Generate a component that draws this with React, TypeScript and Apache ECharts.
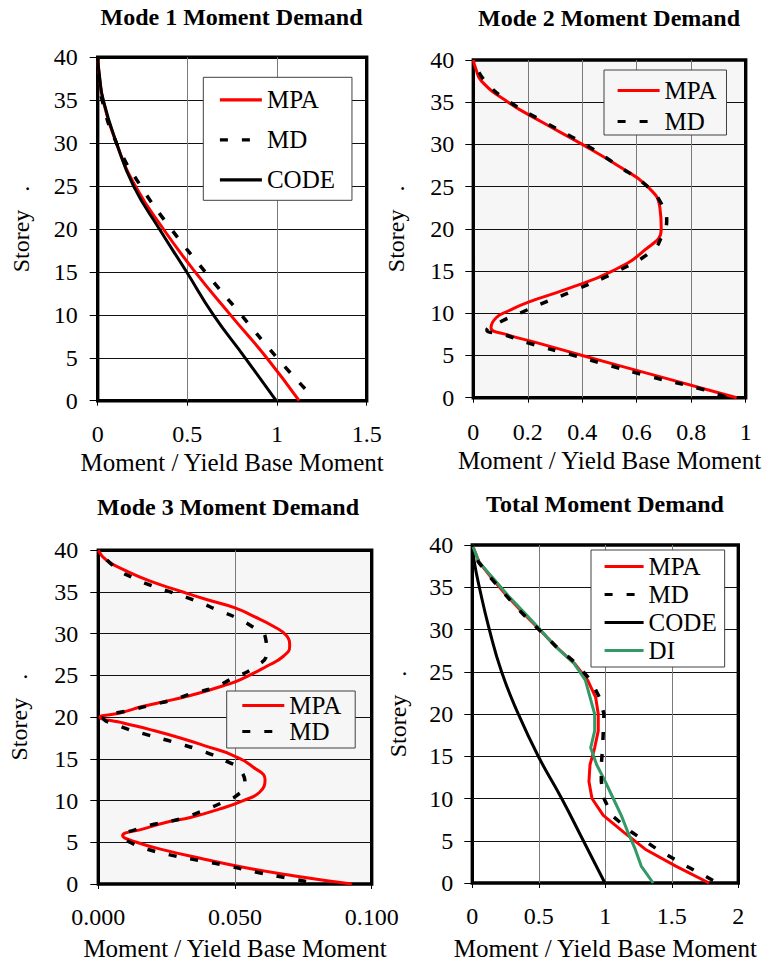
import React, { useEffect, useRef } from "react";
import * as echarts from "echarts";

const FONT = "Liberation Serif, Times New Roman, serif";

// ---------- Data ----------
const TITLES = ["Mode 1 Moment Demand", "Mode 2 Moment Demand", "Mode 3 Moment Demand", "Total Moment Demand"];
const X_NAME = "Moment / Yield Base Moment";
const Y_NAME = "Storey   .";

// Mode 1
const P1_STOREY = [0, 5, 10, 15, 20, 25, 30, 35, 38, 40];
const P1_MPA = [1.123, 0.942, 0.74, 0.543, 0.366, 0.21, 0.105, 0.03, 0.008, 0];
const P1_CODE = [0.995, 0.822, 0.645, 0.496, 0.344, 0.2, 0.105, 0.031, 0.009, 0];
const P1_MD_STOREY = [1.4, 5, 10, 15, 20, 25, 30, 35, 38, 40];
const P1_MD = [1.156, 1.0, 0.8, 0.6, 0.41, 0.24, 0.105, 0.025, 0.006, 0];

// Mode 2
const P2_MPA_STOREY = [0, 2.5, 5, 6.5, 7.5, 8.3, 9.5, 10.3, 11.3, 12.8, 15, 17.5, 20, 22.5, 25, 27.5, 30, 32.5, 35, 37.5, 39, 40];
const P2_MPA = [0.967, 0.684, 0.4, 0.235, 0.12, 0.065, 0.085, 0.13, 0.2, 0.337, 0.51, 0.63, 0.69, 0.685, 0.64, 0.53, 0.4, 0.26, 0.128, 0.03, 0.009, 0];
const P2_MD_STOREY = [0.1, 1, 2.5, 4, 5, 6.5, 7.5, 8, 9, 10, 11, 12.5, 15, 17.5, 19, 21, 23, 25, 27.5, 30, 32.5, 35, 37.5, 40];
const P2_MD = [0.925, 0.84, 0.65, 0.48, 0.37, 0.2, 0.11, 0.05, 0.1, 0.17, 0.24, 0.355, 0.53, 0.66, 0.69, 0.71, 0.69, 0.64, 0.53, 0.41, 0.27, 0.135, 0.043, 0];

// Mode 3
const P3_MPA_STOREY = [0, 1, 2, 3, 4, 5, 5.8, 6.6, 7.4, 8, 9, 10, 11, 12.5, 14, 15.4, 16.5, 17.5, 18.5, 19.3, 20, 20.5, 21.3, 22.1, 22.9, 23.9, 24.5, 26.1, 27.3, 28.5, 29.7, 30.9, 32.1, 33.1, 34.1, 35.1, 36.3, 37.5, 38.8, 40];
const P3_MPA = [0.0927, 0.0713, 0.053, 0.0384, 0.025, 0.014, 0.0089, 0.0165, 0.025, 0.034, 0.0445, 0.053, 0.059, 0.061, 0.0567, 0.0494, 0.0396, 0.03, 0.019, 0.0091, 0.0006, 0.0079, 0.0165, 0.0274, 0.037, 0.047, 0.052, 0.0616, 0.0677, 0.07, 0.069, 0.064, 0.0567, 0.05, 0.0396, 0.03, 0.019, 0.0104, 0.003, 0];
const P3_MD_STOREY = [0.3, 0.8, 1.4, 2.2, 2.8, 3.4, 4.2, 5.0, 5.6, 6.8, 7.8, 8.8, 10.0, 10.6, 11.8, 13.7, 14.7, 15.9, 16.9, 17.9, 18.9, 19.9, 20.9, 21.5, 22.1, 22.9, 23.5, 24.7, 25.9, 27.7, 29.7, 30.5, 31.9, 32.8, 33.9, 34.9, 35.7, 36.7, 37.8, 40];
const P3_MD = [0.076, 0.0677, 0.058, 0.047, 0.0372, 0.0274, 0.0177, 0.0116, 0.0091, 0.0165, 0.03, 0.0384, 0.047, 0.0506, 0.0537, 0.0518, 0.047, 0.0384, 0.0287, 0.0177, 0.0079, 0.0018, 0.0128, 0.02, 0.0274, 0.0348, 0.042, 0.0494, 0.0567, 0.0616, 0.061, 0.058, 0.0506, 0.0439, 0.036, 0.0274, 0.02, 0.0128, 0.0067, 0];

// Total
const P4_STOREY = [0, 2, 4, 6, 8, 10, 12, 14, 16, 18, 20, 22, 24, 26, 28, 30, 32, 34, 36, 38, 40];
const P4_MPA = [1.78, 1.53, 1.3, 1.14, 0.985, 0.9, 0.877, 0.885, 0.92, 0.947, 0.947, 0.927, 0.867, 0.767, 0.627, 0.505, 0.38, 0.26, 0.15, 0.05, 0];
const P4_DI = [1.36, 1.27, 1.225, 1.17, 1.12, 1.06, 1.0, 0.935, 0.89, 0.92, 0.92, 0.885, 0.85, 0.765, 0.625, 0.51, 0.39, 0.27, 0.16, 0.05, 0];
const P4_MD_STOREY = [0.3, 1, 2, 4, 6, 8, 10, 12, 14, 16, 18, 20, 22, 24, 26, 28, 30, 32, 34, 36, 38, 40];
const P4_MD = [1.81, 1.73, 1.61, 1.39, 1.2, 1.05, 0.99, 0.97, 0.97, 0.98, 0.985, 0.99, 0.955, 0.89, 0.78, 0.63, 0.5, 0.37, 0.255, 0.145, 0.045, 0];
const P4_CODE_STOREY = [0, 5, 10, 15, 20, 25, 30, 35, 38, 40];
const P4_CODE = [0.997, 0.835, 0.672, 0.496, 0.346, 0.22, 0.128, 0.053, 0.015, 0];

// ---------- helpers ----------
const pts = (xs: number[], ys: number[]) => xs.map((x, i) => [x, ys[i]]);

const STYLES: Record<string, any> = {
  MPA: { color: "#ff0000", width: 3, type: "solid" },
  MD: { color: "#000000", width: 3.5, type: [8, 14] },
  CODE: { color: "#000000", width: 3, type: "solid" },
  DI: { color: "#339966", width: 3, type: "solid" },
};

function series(name: string, idx: number, data: number[][], smooth: boolean) {
  const s = STYLES[name];
  return {
    name,
    type: "line",
    xAxisIndex: idx,
    yAxisIndex: idx,
    data,
    symbol: "none",
    smooth: smooth ? 0.5 : false,
    lineStyle: { color: s.color, width: s.width, type: s.type },
    itemStyle: { color: s.color },
    z: name === "MD" ? 3 : 2,
  };
}

const GRIDS = [
  { left: 97.7, top: 57.3, width: 269, height: 343.4, bg: "#ffffff" },
  { left: 473.3, top: 60, width: 272.4, height: 337.7, bg: "#f6f6f6" },
  { left: 98.3, top: 550.3, width: 273.4, height: 334.7, bg: "#f6f6f6" },
  { left: 472.3, top: 545, width: 266, height: 339, bg: "#ffffff" },
];

const TITLE_POS = [
  [231.5, 16.5],
  [609, 17.5],
  [228, 507],
  [605, 503.5],
];

const X_CFG = [
  { max: 1.5, interval: 0.5, dec: -1, margin: 21, nameGap: 49 },
  { max: 1, interval: 0.2, dec: -1, margin: 22, nameGap: 50 },
  { max: 0.1, interval: 0.05, dec: 3, margin: 21, nameGap: 52 },
  { max: 2, interval: 0.5, dec: -1, margin: 21, nameGap: 53 },
];
const Y_CFG = [
  { margin: 20, nameGap: 65 },
  { margin: 19, nameGap: 65 },
  { margin: 20, nameGap: 67 },
  { margin: 19, nameGap: 62 },
];

const LEGENDS = [
  { data: ["MPA", "MD", "CODE"], left: 203.3, top: 77.3, padding: [10, 17, 8, 15], itemGap: 15, itemWidth: 42, bg: "#ffffff" },
  { data: ["MPA", "MD"], left: 604, top: 70, padding: [8, 10, 1, 12], itemGap: 6, itemWidth: 42, bg: "#f6f6f6" },
  { data: ["MPA", "MD"], left: 226.7, top: 691, padding: [2, 14, 4, 14], itemGap: 1, itemWidth: 42, bg: "#f6f6f6" },
  { data: ["MPA", "MD", "CODE", "DI"], left: 591, top: 550, padding: [4, 8, 4, 12], itemGap: 3, itemWidth: 39, bg: "#ffffff" },
];

export default function App() {
  const ref = useRef<HTMLDivElement>(null);

  useEffect(() => {
    if (!ref.current) return;
    const chart = echarts.init(ref.current, undefined, { renderer: "svg" });

    const grid = GRIDS.map((g) => ({
      left: g.left,
      top: g.top,
      width: g.width,
      height: g.height,
      show: true,
      backgroundColor: g.bg,
      borderColor: "#000",
      borderWidth: 3.4,
      containLabel: false,
    }));

    const xAxis = X_CFG.map((c, i) => ({
      type: "value",
      gridIndex: i,
      min: 0,
      max: c.max,
      interval: c.interval,
      name: X_NAME,
      nameLocation: "middle",
      nameGap: c.nameGap,
      nameTextStyle: { fontFamily: FONT, fontSize: 25, color: "#000" },
      axisLine: { show: false },
      axisTick: { show: true, length: 5, lineStyle: { color: "#000", width: 1 } },
      axisLabel: {
        margin: c.margin,
        fontFamily: FONT,
        fontSize: 24,
        color: "#000",
        formatter: (v: number) => (c.dec > 0 ? v.toFixed(c.dec) : String(Math.round(v * 100) / 100)),
      },
      splitLine: { show: true, showMinLine: false, showMaxLine: false, lineStyle: { color: "#7a7a7a", width: 1 } },
    }));

    const yAxis = Y_CFG.map((c, i) => ({
      type: "value",
      gridIndex: i,
      min: 0,
      max: 40,
      interval: 5,
      name: Y_NAME,
      nameLocation: "middle",
      nameGap: c.nameGap,
      nameTextStyle: { fontFamily: FONT, fontSize: 24, color: "#000" },
      axisLine: { show: false },
      axisTick: { show: true, length: 8, lineStyle: { color: "#000", width: 1 } },
      axisLabel: { margin: c.margin, fontFamily: FONT, fontSize: 24, color: "#000" },
      splitLine: { show: true, showMinLine: false, showMaxLine: false, lineStyle: { color: "#111", width: 1 } },
    }));

    const title = TITLES.map((t, i) => ({
      text: t,
      left: TITLE_POS[i][0],
      top: TITLE_POS[i][1] - 12,
      textAlign: "center",
      padding: 0,
      textStyle: { fontFamily: FONT, fontSize: 24, fontWeight: "bold", color: "#000", lineHeight: 24 },
    }));

    const legend = LEGENDS.map((l) => ({
      data: l.data,
      orient: "vertical",
      left: l.left,
      top: l.top,
      padding: l.padding,
      itemGap: l.itemGap,
      itemWidth: l.itemWidth,
      itemHeight: 14,
      backgroundColor: l.bg,
      borderColor: "#404040",
      borderWidth: 1,
      borderRadius: 0,
      selectedMode: false,
      lineStyle: { width: 3.2 },
      itemStyle: { color: "rgba(0,0,0,0)", borderColor: "rgba(0,0,0,0)", borderWidth: 0 },
      textStyle: { fontFamily: FONT, fontSize: 25, color: "#000", lineHeight: 24 },
    }));

    const seriesList = [
      series("MPA", 0, pts(P1_MPA, P1_STOREY), true),
      series("MD", 0, pts(P1_MD, P1_MD_STOREY), true),
      series("CODE", 0, pts(P1_CODE, P1_STOREY), true),
      series("MPA", 1, pts(P2_MPA, P2_MPA_STOREY), true),
      series("MD", 1, pts(P2_MD, P2_MD_STOREY), true),
      series("MPA", 2, pts(P3_MPA, P3_MPA_STOREY), true),
      series("MD", 2, pts(P3_MD, P3_MD_STOREY), true),
      series("MPA", 3, pts(P4_MPA, P4_STOREY), false),
      series("MD", 3, pts(P4_MD, P4_MD_STOREY), false),
      series("CODE", 3, pts(P4_CODE, P4_CODE_STOREY), true),
      series("DI", 3, pts(P4_DI, P4_STOREY), false),
    ];

    chart.setOption({
      animation: false,
      backgroundColor: "#ffffff",
      title,
      legend,
      grid,
      xAxis,
      yAxis,
      series: seriesList,
    });

    return () => chart.dispose();
  }, []);

  return (
    <div
      ref={ref}
      style={{ position: "absolute", left: 0, top: 0, width: 774, height: 962 }}
    />
  );
}
